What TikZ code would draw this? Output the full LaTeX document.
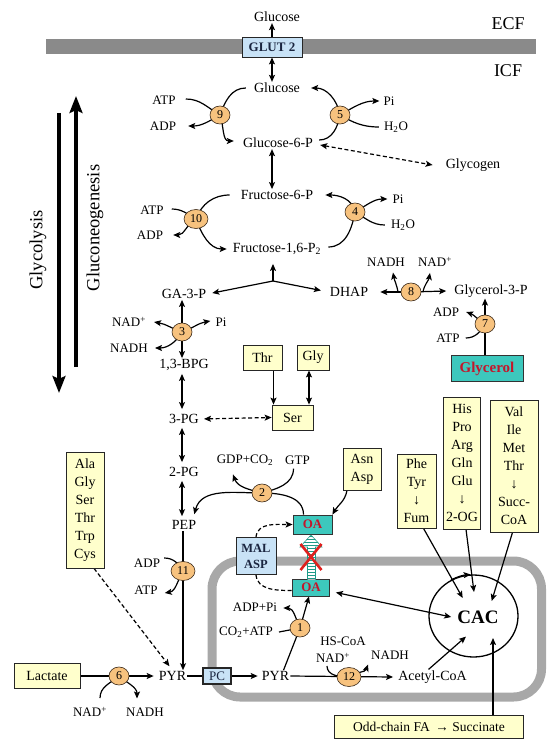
\documentclass[tikz,border=0pt]{standalone}
\usepackage{fontspec}
\setmainfont{Liberation Serif}
\usetikzlibrary{arrows.meta,calc,backgrounds,shapes.geometric}
\definecolor{enzfill}{HTML}{F7C27E}
\definecolor{enzdraw}{HTML}{3B2A1A}
\definecolor{yfill}{HTML}{FFFFCC}
\definecolor{tfill}{HTML}{3DC8BD}
\definecolor{bfill}{HTML}{C8E2F6}
\definecolor{oared}{HTML}{C3162B}
\definecolor{membc}{HTML}{8A8A8A}
\definecolor{mitoc}{HTML}{A8A8A8}
\definecolor{stripec}{HTML}{1F9A88}
\definecolor{xred}{HTML}{E0201E}
\definecolor{navyt}{HTML}{1A2540}
\begin{document}
\begin{tikzpicture}[x=1pt,y=-1pt,
 met/.style={font=\fontsize{14}{16}\selectfont, inner sep=1pt},
 sml/.style={font=\fontsize{13}{15}\selectfont, inner sep=1pt},
 enzy/.style={ellipse, draw=enzdraw, fill=enzfill, line width=0.6pt, minimum width=20pt, minimum height=18pt, inner sep=0pt, font=\fontsize{12}{12}\selectfont},
 enzw/.style={enzy, minimum width=24pt, minimum height=19pt},
 ybx/.style={draw=black!85, fill=yfill, line width=0.8pt, font=\fontsize{14}{18}\selectfont, align=center, inner sep=0pt},
 tbx/.style={draw=black!80, fill=tfill, line width=0.8pt, font=\bfseries\fontsize{13}{15}\selectfont, text=oared, inner sep=0pt},
 bbx/.style={draw=black!85, fill=bfill, line width=0.8pt, inner sep=0pt, align=center},
 arr/.style={-{Stealth[length=7pt,width=6pt,inset=1.5pt]}, line width=1.2pt},
 darr/.style={{Stealth[length=7pt,width=6pt,inset=1.5pt]}-{Stealth[length=7pt,width=6pt,inset=1.5pt]}, line width=1.2pt},
 ln/.style={line width=1.2pt},
 dsh/.style={dash pattern=on 4pt off 2.5pt},
 bigarr/.style={-{Stealth[length=17pt,width=13pt,inset=3pt]}, line width=3.2pt},
]
\useasboundingbox (0,0) rectangle (558,746);

% membranes
\begin{scope}[on background layer]
\fill[membc] (45.5,39) rectangle (535.6,54);
\draw[mitoc, line width=9pt, rounded corners=28pt] (212,561) rectangle (541.5,697);
\end{scope}

% side arrows
\coordinate (gl1) at (59,113); \coordinate (gl2) at (59,393);
\coordinate (gn1) at (76,367); \coordinate (gn2) at (76,96);
\draw[bigarr] (gl1) -- (gl2);
\draw[bigarr] (gn1) -- (gn2);
\node[rotate=90, font=\fontsize{18.5}{20}\selectfont, inner sep=0pt] (tglyco) at (38,250) {Glycolysis};
\node[rotate=90, font=\fontsize{18.5}{20}\selectfont, inner sep=0pt] (tgneo) at (95,228) {Gluconeogenesis};

% top
\node[met] (GlcE) at (277,17) {Glucose};
\node[bbx, minimum width=60pt, minimum height=20pt, font=\bfseries\fontsize{13}{15}\selectfont, text=navyt] (GLUT) at (272,47) {GLUT 2};
\node[font=\fontsize{18}{20}\selectfont] (ECF) at (508,24) {ECF};
\node[font=\fontsize{18}{20}\selectfont] (ICF) at (508,71) {ICF};
\node[met] (Glc) at (277,88) {Glucose};
\node[sml] (ATP9) at (164,100) {ATP};
\node[sml] (ADP9) at (163,126) {ADP};
\node[enzy] (e9) at (220,115) {9};
\node[enzy] (e5) at (340,115) {5};
\node[sml] (Pi5) at (389,101) {Pi};
\node[sml] (H2O5) at (396,127) {H\textsubscript{2}O};
\node[met] (G6P) at (278,143) {Glucose-6-P};
\node[met] (Glycogen) at (473,165) {Glycogen};
\node[met] (F6P) at (277,195) {Fructose-6-P};
\node[sml] (ATP10) at (152,210) {ATP};
\node[sml] (ADP10) at (150,235) {ADP};
\node[enzw] (e10) at (196,219) {10};
\node[met] (F16) at (277,249) {Fructose-1,6-P\textsubscript{2}};
\node[enzy] (e4) at (355,212) {4};
\node[sml] (Pi4) at (398,199) {Pi};
\node[sml] (H2O4) at (403,225) {H\textsubscript{2}O};
\coordinate (J) at (273,281);
\node[met] (GA3P) at (184,294) {GA-3-P};
\node[met] (DHAP) at (349,292) {DHAP};
\node[enzy] (e8) at (411,292) {8};
\node[sml] (NADH8) at (386,262) {NADH};
\node[sml] (NAD8) at (435,262) {NAD\textsuperscript{+}};
\node[met] (G3P) at (491,291) {Glycerol-3-P};
\node[enzy] (e7) at (485,324) {7};
\node[sml] (ADP7) at (446,312) {ADP};
\node[sml] (ATP7) at (448,338) {ATP};
\node[tbx, minimum width=72pt, minimum height=26pt, font=\bfseries\fontsize{15}{17}\selectfont] (Glyc) at (487,368.7) {Glycerol};
\node[enzy] (e3) at (182,332) {3};
\node[sml] (NAD3) at (129,322) {NAD\textsuperscript{+}};
\node[sml] (Pi3) at (221,322) {Pi};
\node[sml] (NADH3) at (129,348) {NADH};
\node[met] (BPG) at (184,365) {1,3-BPG};
\node[ybx, minimum width=39pt, minimum height=25pt] (Thr) at (262.5,357.5) {Thr};
\node[ybx, minimum width=32pt, minimum height=25pt] (Gly) at (313,357.5) {Gly};
\node[ybx, minimum width=41pt, minimum height=25pt] (Ser) at (292.5,417.5) {Ser};
\node[met] (PG3) at (184,419) {3-PG};
\node[met] (PG2) at (184,472) {2-PG};
\node[sml] (GDP) at (245,460) {GDP+CO\textsubscript{2}};
\node[sml] (GTP) at (297.5,460) {GTP};
\node[enzy] (e2) at (262,493) {2};
\node[ybx, minimum width=38pt, minimum height=42pt] (Asn) at (362,469) {Asn\\Asp};
\node[met] (PEP) at (184,525) {PEP};
\node[tbx, minimum width=39pt, minimum height=19pt] (OAc) at (312.5,524.5) {OA};
\node[bbx, minimum width=40pt, minimum height=37pt, font=\bfseries\fontsize{12.5}{16}\selectfont, text=navyt] (MAL) at (256,556) {MAL\\ASP};
\node[tbx, minimum width=37pt, minimum height=17pt] (OAm) at (311,587.5) {OA};
\node[ybx, minimum width=38pt, minimum height=116pt] (Ala) at (85,510) {Ala\\Gly\\Ser\\Thr\\Trp\\Cys};
\node[ybx, minimum width=39pt, minimum height=74pt] (Phe) at (416.5,491) {Phe\\Tyr\\↓\\Fum};
\node[ybx, minimum width=37pt, minimum height=132pt] (His) at (462,463) {His\\Pro\\Arg\\Gln\\Glu\\↓\\2-OG};
\node[ybx, minimum width=48pt, minimum height=132pt] (Val) at (514,466) {Val\\Ile\\Met\\Thr\\↓\\Succ-\\CoA};
\node[enzw] (e11) at (183,571) {11};
\node[sml] (ADP11) at (147,563) {ADP};
\node[sml] (ATP11) at (146,590) {ATP};
\node[ybx, minimum width=66pt, minimum height=25pt] (Lact) at (47,676) {Lactate};
\node[enzy] (e6) at (119,676) {6};
\node[met] (PYR) at (172.5,676) {PYR};
\node[sml] (NAD6) at (90,712) {NAD\textsuperscript{+}};
\node[sml] (NADH6) at (145,712) {NADH};
\node[bbx, line width=1.4pt, minimum width=28pt, minimum height=16pt, font=\fontsize{13}{15}\selectfont, text=navyt] (PC) at (217,676) {PC};
\node[met] (PYR2) at (275.5,676) {PYR};
\node[enzy] (e1) at (300,628) {1};
\node[sml] (CO2) at (246,632) {CO\textsubscript{2}+ATP};
\node[sml] (ADPPi) at (255,607) {ADP+Pi};
\node[enzw] (e12) at (349,677) {12};
\node[sml] (HSCoA) at (343,641) {HS-CoA};
\node[sml] (NAD12) at (333,658) {NAD\textsuperscript{+}};
\node[sml] (NADH12) at (390,655) {NADH};
\node[met] (AcCoA) at (432.5,677) {Acetyl-CoA};
\node[ellipse, draw, line width=1.3pt, minimum width=89pt, minimum height=82pt] (cyc) at (473.5,616) {};
\node[font=\bfseries\fontsize{19}{21}\selectfont, inner sep=1pt] (CACt) at (478,617) {CAC};
\node[ybx, minimum width=189pt, minimum height=23pt, font=\fontsize{13.5}{15}\selectfont] (Odd) at (429,726.5) {Odd-chain FA \,→ Succinate};
\coordinate (cin1) at (462.7,598);
\coordinate (cin2) at (474,592);
\coordinate (cin3) at (491.7,601);
\coordinate (cin4) at (493,638);

% connectors
\begin{scope}[on background layer]
\draw[arr] (GLUT.north) -- (GLUT.north |- GlcE.south);
\draw[darr] (GLUT.south) -- (GLUT.south |- Glc.north);
% 9
\draw[arr] ($(Glc.west)+(-7,0)$) to[out=180,in=70] (e9.center) to[out=-70,in=180] ($(G6P.west)+(-8,-2)$);
\draw[ln] ($(ATP9.east)+(9,-1)$) to[out=0,in=150] (e9.center);
\draw[arr] (e9.center) to[out=-150,in=0] ($(ADP9.east)+(11,0)$);
% 5
\draw[arr] ($(G6P.east)+(5,-3)$) to[out=0,in=-100] (e5.center) to[out=100,in=0] ($(Glc.east)+(10,0)$);
\draw[arr] (e5.center) to[out=30,in=180] ($(Pi5.west)+(-3,0)$);
\draw[ln] ($(H2O5.west)+(-4,0)$) to[out=180,in=-30] (e5.center);
\draw[darr,dsh] ($(G6P.east)+(6,2)$) -- ($(Glycogen.west)+(-12,0)$);
\draw[darr] (GLUT.south |- G6P.south) -- (GLUT.south |- F6P.north);
% 10
\draw[arr] ($(F6P.west)+(-10,0)$) to[out=180,in=70] (e10.center) to[out=-70,in=180] ($(F16.west)+(-5,0)$);
\draw[ln] ($(ATP10.east)+(7,-1)$) to[out=0,in=150] (e10.center);
\draw[arr] (e10.center) to[out=-150,in=0] ($(ADP10.east)+(9,0)$);
% 4
\draw[arr] ($(F16.east)+(6,-2)$) to[out=0,in=-100] (e4.center) to[out=100,in=0] ($(F6P.east)+(11,0)$);
\draw[arr] (e4.center) to[out=30,in=180] ($(Pi4.west)+(-4,0)$);
\draw[ln] ($(H2O4.west)+(-5,0)$) to[out=180,in=-30] (e4.center);
% aldolase
\draw[arr, shorten >=8pt] (J) -- (J |- F16.south);
\draw[arr, shorten >=5pt] (J) -- (GA3P.east);
\draw[arr, shorten >=8pt] (J) -- (DHAP.west);
% 8
\draw[arr] (e8.center) -- ($(DHAP.east)+(11,0)$);
\draw[arr] (e8.center) -- ($(G3P.west)+(-7,0)$);
\draw[arr] ($(e8.center)+(-13,0)$) to[out=100,in=-80] ($(NADH8.south)+(7,5)$);
\draw[arr] ($(e8.center)+(12,0)$) to[out=80,in=-100] ($(NAD8.south)+(-5,5)$);
% 7
\draw[arr] (Glyc.north -| e7.center) -- (e7.center |- G3P.south);
\draw[arr] (e7.center) to[out=150,in=-20] ($(ADP7.east)+(6,0)$);
\draw[ln] ($(ATP7.east)+(5,0)$) to[out=0,in=-120] (e7.center);
% 3
\draw[darr] (e3.center |- GA3P.south) -- (e3.center |- BPG.north);
\draw[arr] (e3.center) to[out=160,in=-10] ($(NAD3.east)+(7,0)$);
\draw[arr] (e3.center) to[out=20,in=190] ($(Pi3.west)+(-4,-1)$);
\draw[arr] (e3.center) to[out=-120,in=0] ($(NADH3.east)+(6,0)$);
% lower glycolysis
\draw[darr, shorten <=2pt, shorten >=4pt] (e3.center |- BPG.south) -- (e3.center |- PG3.north);
\draw[darr, shorten <=3pt, shorten >=4pt] (e3.center |- PG3.south) -- (e3.center |- PG2.north);
\draw[darr, shorten <=3pt, shorten >=3pt] (e3.center |- PG2.south) -- (e3.center |- PEP.north);
\draw[darr,dsh, shorten <=4pt] (PG3.east) -- (Ser.west);
\draw[arr] ([xshift=11pt]Thr.south) -- ([xshift=11pt]Thr.south |- Ser.north);
\draw[darr] ([xshift=-4pt]Gly.south) -- ([xshift=-4pt]Gly.south |- Ser.north);
% 2
\draw[arr] ([xshift=-9pt]OAc.north) to[out=90,in=0] (e2.center) to[out=180,in=75] ($(PEP.north east)+(-3,-5)$);
\draw[arr] (e2.center) to[out=165,in=-70] ($(GDP.south)+(-12,8)$);
\draw[ln] ($(GTP.south)+(-4,3)$) to[out=-90,in=15] (e2.center);
\draw[arr] ([xshift=-15pt]Asn.south) to[out=-100,in=60] (OAc.north east);
% MAL/ASP shuttle
\draw[arr,dsh] (MAL.north) to[out=85,in=180] (OAc.west);
\draw[ln,dsh] (MAL.south) to[out=-85,in=180] ($(OAm.west)+(0,3)$);
% 11
\draw[arr] (e11.center |- PEP.south) -- (e11.center |- PYR.north);
\draw[ln] ($(ADP11.east)+(3,-5)$) to[out=0,in=120] (e11.center);
\draw[arr] (e11.center) to[out=-120,in=10] ($(ATP11.east)+(6,3)$);
\draw[arr,dsh] ([xshift=9pt]Ala.south) -- ($(PYR.north)+(-3,-4)$);
% 6
\draw[arr] (Lact.east) -- ($(PYR.west)+(-4,0)$);
\draw[ln] ($(NAD6.north)+(10,-8)$) to[out=90,in=-140] (e6.center);
\draw[arr] (e6.center) to[out=-40,in=90] ($(NADH6.north)+(-8,-8)$);
% PC
\draw[ln] (PYR.east) -- (PC.west);
\draw[arr] (PC.east) -- ($(PYR2.west)+(-3,0)$);
% 1
\draw[arr] ($(PYR2.north)+(8,0)$) -- (e1.center) -- ([xshift=-2pt]OAm.south);
\draw[ln] ($(CO2.east)+(5,0)$) -- (e1.center);
\draw[arr] (e1.center) to[out=115,in=0] ($(ADPPi.east)+(5,1)$);
% 12
\draw[arr] (PYR2.east) -- ($(AcCoA.west)+(-4,0)$);
\draw[ln] ($(NAD12.south)+(-6,2)$) to[out=-90,in=180] (e12.center);
\draw[arr] (e12.center) to[out=40,in=-110] ($(NADH12.south west)+(-2,4)$);
% CAC
\draw[darr] ($(OAm.east)+(6,5)$) -- ($(CACt.west)+(-5,0)$);
\draw[arr] ($(AcCoA.north)+(-4,0)$) -- ($(CACt.south)+(-12,12)$);
\draw[arr] ([xshift=64pt]Odd.north) -- (cin4);
\draw[arr] ([xshift=7pt]Phe.south) -- (cin1);
\draw[arr] ([xshift=4pt]His.south) -- (cin2);
\draw[arr] ([xshift=-1.5pt]Val.south) -- (cin3);
\draw[arr] (cyc.122) to[bend left=10] (cyc.94);
\end{scope}

% blocked OA transport
\begin{scope}
\clip (307.5,547) rectangle (315.5,579.5) (300,547) -- (311,535) -- (322,547) -- cycle;
\fill[white] (298,533) rectangle (324,581);
\foreach \yy in {536.5,539.5,...,580} {\draw[stripec, line width=1.8pt] (298,\yy) -- (324,\yy);}
\end{scope}
\draw[stripec, line width=0.6pt] (307.5,579.5) -- (307.5,547) -- (300,547) -- (311,535) -- (322,547) -- (315.5,547) -- (315.5,579.5);
\draw[xred, line width=2.6pt] (300.5,544) -- (321.5,570) (321.5,544) -- (300.5,570);
\end{tikzpicture}
\end{document}
